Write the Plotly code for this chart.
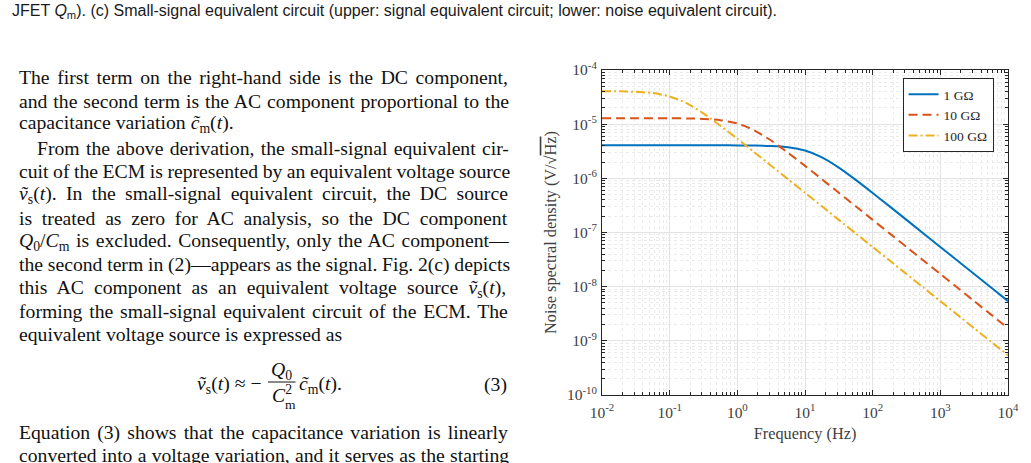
import plotly.graph_objects as go

# ---------------- data ----------------
freq_hz = [0.01, 0.0178, 0.0316, 0.0562, 0.1, 0.178, 0.316, 0.562,
           1, 1.78, 3.16, 5.62, 10, 17.8, 31.6, 56.2,
           100, 178, 316, 562, 1000, 1780, 3160, 5620, 10000]

noise_1g = [4.07e-6, 4.07e-6, 4.07e-6, 4.07e-6, 4.07e-6, 4.07e-6, 4.07e-6, 4.066e-6,
            4.058e-6, 4.034e-6, 3.960e-6, 3.749e-6, 3.253e-6, 2.438e-6, 1.578e-6, 9.37e-7,
            5.366e-7, 3.035e-7, 1.710e-7, 9.62e-8, 5.413e-8, 3.044e-8, 1.712e-8, 9.62e-9, 5.413e-9]

noise_10g = [1.287e-5, 1.287e-5, 1.287e-5, 1.286e-5, 1.283e-5, 1.276e-5, 1.252e-5, 1.185e-5,
             1.029e-5, 7.708e-6, 4.989e-6, 2.962e-6, 1.697e-6, 9.60e-7, 5.408e-7, 3.043e-7,
             1.712e-7, 9.63e-8, 5.41e-8, 3.043e-8, 1.712e-8, 9.63e-9, 5.41e-9, 3.043e-9, 1.712e-9]

noise_100g = [4.058e-5, 4.034e-5, 3.960e-5, 3.749e-5, 3.253e-5, 2.438e-5, 1.578e-5, 9.37e-6,
              5.366e-6, 3.035e-6, 1.710e-6, 9.62e-7, 5.413e-7, 3.044e-7, 1.712e-7, 9.62e-8,
              5.413e-8, 3.044e-8, 1.712e-8, 9.62e-9, 5.413e-9, 3.044e-9, 1.712e-9, 9.62e-10, 5.413e-10]

series_names = ["1 G\u03a9", "10 G\u03a9", "100 G\u03a9"]

x_tick_vals = [0.01, 0.1, 1, 10, 100, 1000, 10000]
x_tick_text = ["10<sup>-2</sup>", "10<sup>-1</sup>", "10<sup>0</sup>", "10<sup>1</sup>",
               "10<sup>2</sup>", "10<sup>3</sup>", "10<sup>4</sup>"]
y_tick_vals = [1e-10, 1e-9, 1e-8, 1e-7, 1e-6, 1e-5, 1e-4]
y_tick_text = ["10<sup>-10</sup>", "10<sup>-9</sup>", "10<sup>-8</sup>", "10<sup>-7</sup>",
               "10<sup>-6</sup>", "10<sup>-5</sup>", "10<sup>-4</sup>"]

x_title = "Frequency (Hz)"
y_title = "Noise spectral density (V/\u221a<span style='text-decoration:overline'>Hz</span>)"

caption = ("JFET <i>Q</i><sub>m</sub>). (c) Small-signal equivalent circuit (upper: signal "
           "equivalent circuit; lower: noise equivalent circuit).")

body_lines = [
    "The first term on the right-hand side is the DC component,",
    "and the second term is the AC component proportional to the",
    "capacitance variation <i>c\u0303</i><sub>m</sub>(<i>t</i>).",
    "From the above derivation, the small-signal equivalent cir-",
    "cuit of the ECM is represented by an equivalent voltage source",
    "<i>v\u0303</i><sub>s</sub>(<i>t</i>). In the small-signal equivalent circuit, the DC source",
    "is treated as zero for AC analysis, so the DC component",
    "<i>Q</i><sub>0</sub>/<i>C</i><sub>m</sub> is excluded. Consequently, only the AC component\u2014",
    "the second term in (2)\u2014appears as the signal. Fig. 2(c) depicts",
    "this AC component as an equivalent voltage source <i>v\u0303</i><sub>s</sub>(<i>t</i>),",
    "forming the small-signal equivalent circuit of the ECM. The",
    "equivalent voltage source is expressed as",
    "Equation (3) shows that the capacitance variation is linearly",
    "converted into a voltage variation, and it serves as the starting",
]
# extra inter-word spacing (px) used to imitate the justified column
body_word_spacing = [2.7, 1.0, 0, 1.4, -0.4, 4.4, 4.8, 1.6, -0.2, 5.2, 1.9, 0, 2.2, 0.3]

# ---------------- figure ----------------
W, H = 1031, 463
L, R, T, B = 602, 17, 70, 68
PW, PH = W - L - R, H - T - B


def px(x):
    return (x - L) / PW


def py(y):
    return 1 - (y - T) / PH


colors = ["#0072BD", "#D95319", "#EDB120"]
dashes = ["solid", "9px,5px", "9px,3px,2px,3px"]
series = [noise_1g, noise_10g, noise_100g]

fig = go.Figure()
for name, vals, c, d in zip(series_names, series, colors, dashes):
    fig.add_trace(go.Scatter(x=freq_hz, y=vals, name=name, mode="lines",
                             line=dict(color=c, width=2, dash=d, shape="spline", smoothing=0.6)))

serif = "Liberation Serif, Times New Roman, serif"
axcol = "#262626"
lblcol = "#404040"
minor_x = [m * 10 ** e for e in range(-2, 4) for m in range(2, 10)]
minor_y = [m * 10 ** e for e in range(-10, -4) for m in range(2, 10)]

common = dict(type="log", showline=True, linecolor=axcol, linewidth=1, mirror="allticks",
              ticks="inside", ticklen=5, tickcolor=axcol, tickwidth=1,
              showgrid=True, gridcolor="#e3e3e3", gridwidth=1, zeroline=False,
              tickfont=dict(family=serif, size=15.5, color=lblcol),
              tickmode="array")

fig.update_xaxes(**common, range=[-2, 4], tickvals=x_tick_vals, ticktext=x_tick_text,
                 ticklabelstandoff=3,
                 minor=dict(tickmode="array", tickvals=minor_x, ticks="inside", ticklen=3,
                            tickcolor=axcol, showgrid=True, gridcolor="#ebebeb", griddash="dot"),
                 title=dict(text=x_title, font=dict(family=serif, size=16.3, color=lblcol),
                            standoff=7))
fig.update_yaxes(**common, range=[-10, -4], tickvals=y_tick_vals, ticktext=y_tick_text,
                 ticklabelstandoff=1,
                 minor=dict(tickmode="array", tickvals=minor_y, ticks="inside", ticklen=3,
                            tickcolor=axcol, showgrid=True, gridcolor="#ebebeb", griddash="dot"),
                 title=dict(text=y_title, font=dict(family=serif, size=16.3, color=lblcol),
                            standoff=6))

annotations = []
annotations.append(dict(text=caption, x=px(1), y=py(11), xref="paper", yref="paper",
                        xanchor="left", yanchor="middle", showarrow=False,
                        font=dict(family="Liberation Sans, Arial, sans-serif", size=16,
                                  color="#1a1a1a")))

body_font = dict(family=serif, size=19.7, color="#111111")
body_y = [77, 101, 124, 148, 171, 194, 218, 241, 264, 288, 311, 334, 432, 455]
body_x = [8, 8, 8, 27, 8, 8, 8, 8, 8, 8, 8, 8, 8, 8]
for txt, ws, xx, yy in zip(body_lines, body_word_spacing, body_x, body_y):
    annotations.append(dict(text="<span style='word-spacing:%.1fpx'>%s</span>" % (ws, txt),
                            x=px(xx), y=py(yy), xref="paper", yref="paper",
                            xanchor="left", yanchor="middle", showarrow=False,
                            font=body_font))

eq_anns = [
    dict(text="<i>v\u0303</i><sub>s</sub>(<i>t</i>) \u2248 \u2212", x=px(258), y=py(384),
         xanchor="right", yanchor="middle"),
    dict(text="<i>Q</i><sub>0</sub>", x=px(277), y=py(370), xanchor="center", yanchor="middle"),
    dict(text="<i>C</i><sup>2</sup>", x=px(277), y=py(394), xanchor="center", yanchor="middle"),
    dict(text="m", x=px(286), y=py(404), xanchor="center", yanchor="middle",
         font=dict(family=serif, size=13.5, color="#111111")),
    dict(text="<i>c\u0303</i><sub>m</sub>(<i>t</i>).", x=px(292), y=py(384),
         xanchor="left", yanchor="middle"),
    dict(text="(3)", x=px(508), y=py(384), xanchor="right", yanchor="middle"),
]
for a in eq_anns:
    a.setdefault("font", body_font)
    a.update(xref="paper", yref="paper", showarrow=False)
annotations += eq_anns

fig.update_layout(
    width=W, height=H,
    margin=dict(l=L, r=R, t=T, b=B, pad=0),
    paper_bgcolor="white", plot_bgcolor="white",
    annotations=annotations,
    shapes=[dict(type="line", xref="paper", yref="paper", x0=px(263), x1=px(291),
                 y0=py(382), y1=py(382), line=dict(color="#111111", width=1))],
    showlegend=True,
    legend=dict(x=px(907), y=py(78), xanchor="left", yanchor="top",
                bgcolor="white", bordercolor=axcol, borderwidth=1,
                font=dict(family=serif, size=13.5, color="#262626"),
                tracegroupgap=0),
)

fig.write_html("out.html")
